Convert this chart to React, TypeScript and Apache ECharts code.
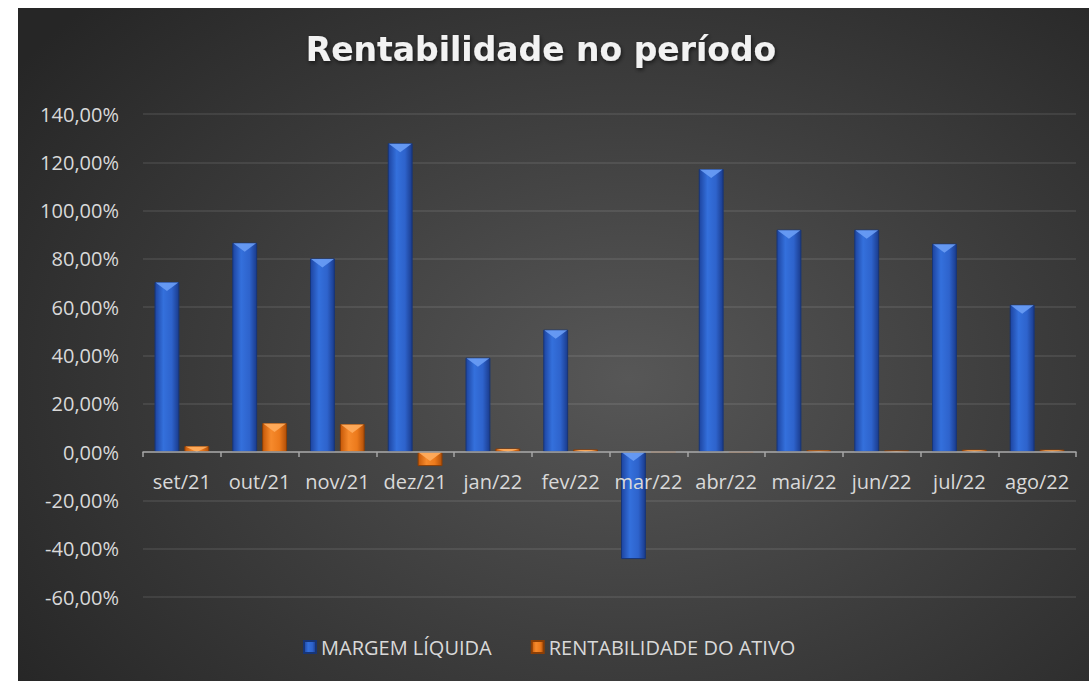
import React, { useEffect, useRef } from "react";
import * as echarts from "echarts";

const categories = ["set/21", "out/21", "nov/21", "dez/21", "jan/22", "fev/22", "mar/22", "abr/22", "mai/22", "jun/22", "jul/22", "ago/22"];
const margemLiquida = [70.4, 86.7, 80.2, 127.9, 39.1, 50.7, -44.3, 117.2, 92.1, 92.1, 86.3, 61.0];
const rentabilidadeAtivo = [2.5, 12.0, 11.6, -5.8, 1.5, 1.1, 0.0, -0.2, 0.8, 0.7, 1.0, 1.0];
const yTicks = { min: -60, max: 140, step: 20 };

const font = "'Open Sans', 'Noto Sans', sans-serif";

const GRID = { left: 125, right: 13, top: 106, bottom: 84 };
const CHART_H = 673;
const BAR_W = 0.32;
const BAR_GAP = 0.2;

const blueGrad = new echarts.graphic.LinearGradient(0, 0, 1, 0, [
  { offset: 0, color: "#1d44a0" },
  { offset: 0.35, color: "#3470dc" },
  { offset: 0.7, color: "#2e63cc" },
  { offset: 1, color: "#1a3b8c" },
]);
const orangeGrad = new echarts.graphic.LinearGradient(0, 0, 1, 0, [
  { offset: 0, color: "#c65808" },
  { offset: 0.35, color: "#f68a2c" },
  { offset: 0.7, color: "#ec7a1c" },
  { offset: 1, color: "#b24f08" },
]);

function bevel(values: number[], side: number, color: string) {
  return {
    type: "custom",
    name: "bevel" + side,
    silent: true,
    data: values.map((v, i) => [i, v]),
    encode: { x: 0, y: 1 },
    z: 3,
    renderItem: (params: any, api: any) => {
      const idx = api.value(0);
      const v = api.value(1);
      const catW = api.size([1, 0])[0];
      const bw = catW * BAR_W;
      const total = 2 * bw + BAR_GAP * bw;
      const center = api.coord([idx, 0])[0] - total / 2 + bw / 2 + side * (bw + BAR_GAP * bw);
      const yv = api.coord([idx, v])[1];
      const y0 = api.coord([idx, 0])[1];
      const top = Math.min(yv, y0);
      const barH = Math.abs(yv - y0);
      const h = Math.min(9, barH);
      if (h < 0.5) return null;
      const x0 = center - bw / 2 + 1;
      const x1 = center + bw / 2 - 1;
      return {
        type: "polygon",
        shape: { points: [[x0, top + 0.5], [x1, top + 0.5], [center, top + h]] },
        style: { fill: color, opacity: 0.9 },
      };
    },
  };
}

export default function App() {
  const ref = useRef<HTMLDivElement>(null);
  useEffect(() => {
    if (!ref.current) return;
    const chart = echarts.init(ref.current, undefined, { renderer: "svg" });
    const plotH = CHART_H - GRID.top - GRID.bottom;
    const zeroFromBottom = (plotH * (0 - yTicks.min)) / (yTicks.max - yTicks.min);
    chart.setOption({
      animation: false,
      title: {
        text: "Rentabilidade no período",
        left: 518,
        textAlign: "center",
        top: 20,
        textStyle: {
          fontFamily: "'DejaVu Sans', sans-serif",
          fontSize: 33,
          fontWeight: "bold",
          color: "#f2f2f2",
          textShadowColor: "rgba(0,0,0,0.6)",
          textShadowBlur: 4,
          textShadowOffsetX: 1,
          textShadowOffsetY: 2,
        },
      },
      legend: {
        data: ["MARGEM LÍQUIDA", "RENTABILIDADE DO ATIVO"],
        left: 280,
        top: 624,
        icon: "rect",
        itemWidth: 12,
        itemHeight: 12,
        itemGap: 39,
        textStyle: { fontFamily: font, fontSize: 20, color: "#d9d9d9" },
      },
      grid: { ...GRID, containLabel: false },
      xAxis: {
        type: "category",
        data: categories,
        position: "bottom",
        offset: -zeroFromBottom,
        z: 10,
        axisLine: { onZero: false, lineStyle: { color: "#a6a6a6", width: 1.5 } },
        axisTick: { show: true, length: 5, lineStyle: { color: "#a6a6a6", width: 1.5 } },
        axisLabel: { interval: 0, fontFamily: font, fontSize: 20, color: "#d9d9d9", margin: 19 },
        splitLine: { show: false },
      },
      yAxis: {
        type: "value",
        min: yTicks.min,
        max: yTicks.max,
        interval: yTicks.step,
        axisLine: { show: false },
        axisTick: { show: false },
        axisLabel: {
          fontFamily: font,
          fontSize: 20,
          color: "#d9d9d9",
          margin: 24,
          formatter: (v: number) => v.toFixed(2).replace(".", ",") + "%",
        },
        splitLine: { lineStyle: { color: "rgba(255,255,255,0.11)", width: 1.5 } },
      },
      series: [
        {
          name: "MARGEM LÍQUIDA",
          type: "bar",
          data: margemLiquida,
          barWidth: BAR_W * 100 + "%",
          barGap: BAR_GAP * 100 + "%",
          itemStyle: { color: blueGrad, borderColor: "#173576", borderWidth: 1 },
        },
        {
          name: "RENTABILIDADE DO ATIVO",
          type: "bar",
          data: rentabilidadeAtivo,
          barWidth: BAR_W * 100 + "%",
          barGap: BAR_GAP * 100 + "%",
          itemStyle: { color: orangeGrad, borderColor: "#8a3e06", borderWidth: 1 },
        },
        bevel(margemLiquida, 0, "#6a9df5"),
        bevel(rentabilidadeAtivo, 1, "#ffad5e"),
      ],
    });
    return () => chart.dispose();
  }, []);
  return (
    <div
      ref={ref}
      style={{
        position: "absolute",
        left: 18,
        top: 8,
        width: 1071,
        height: CHART_H,
        background: "radial-gradient(ellipse 70% 80% at 57% 55%, #575757 0%, #3e3e3e 50%, #262626 100%)",
      }}
    />
  );
}
